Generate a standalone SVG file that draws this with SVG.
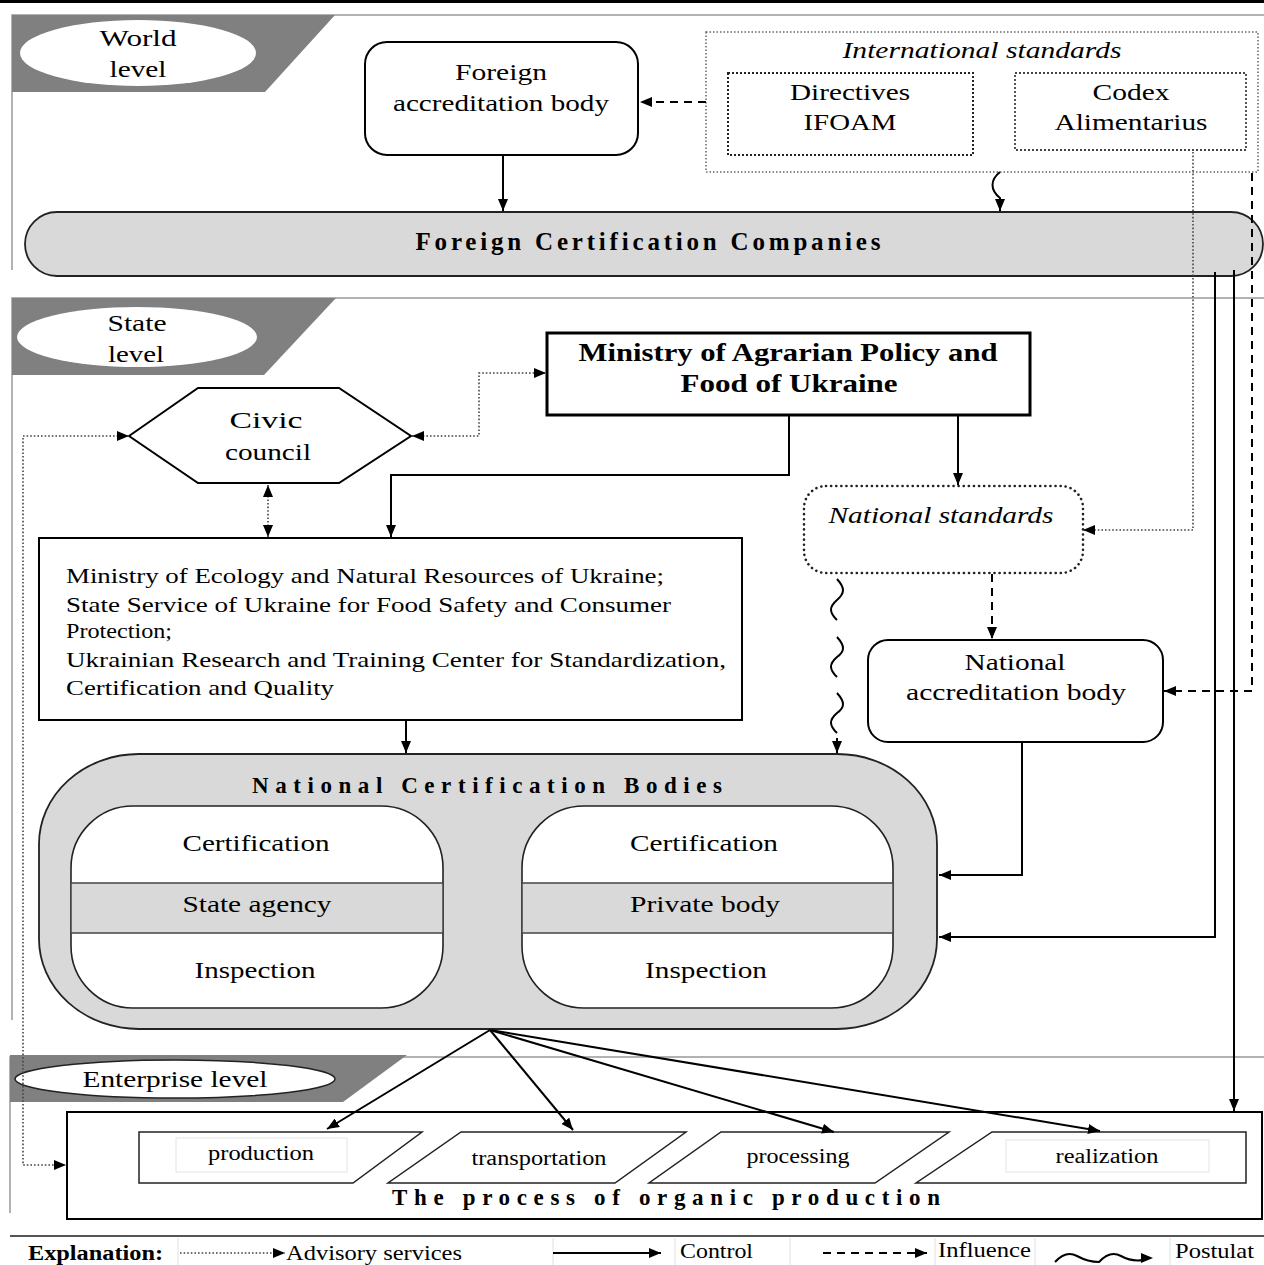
<svg xmlns="http://www.w3.org/2000/svg" width="1264" height="1265" viewBox="0 0 1264 1265">
<defs>
<marker id="ah" markerUnits="userSpaceOnUse" markerWidth="12" markerHeight="10" refX="12" refY="5" orient="auto-start-reverse"><path d="M0,0 L12,5 L0,10 z" fill="#000"/></marker>
<style>
text{font-family:"Liberation Serif","Times New Roman",serif;fill:#000}
.t24{font-size:24px}
.t23{font-size:23px}
.t22{font-size:22px}
.t21{font-size:21px}
.t20{font-size:20px}
.mid{text-anchor:middle}
.b{font-weight:bold}
.i{font-style:italic}
.band{fill:#808080}
.sep{stroke:#999;stroke-width:1.5;fill:none}
.ctl{stroke:#000;stroke-width:2;fill:none}
.dot{stroke:#444;stroke-width:1.6;stroke-dasharray:1.6,2;fill:none}
.dash{stroke:#000;stroke-width:2;stroke-dasharray:8,6;fill:none}
.box{fill:#fff;stroke:#000;stroke-width:2}
.grey{fill:#d9d9d9;stroke:#222;stroke-width:1.8}
</style>
</defs>
<rect width="1264" height="1265" fill="#fff"/>
<rect x="0" y="0" width="1264" height="3" fill="#000"/>

<!-- level bands -->
<g id="world-level">
<path class="sep" d="M12,270 V15 H1264"/>
<polygon class="band" points="12,15 335,15 265,92 12,92"/>
<ellipse cx="138" cy="53" rx="118" ry="33" fill="#fff"/>
<text class="t24 mid" x="138" y="46" textLength="77" lengthAdjust="spacingAndGlyphs">World</text>
<text class="t24 mid" x="138" y="77" textLength="57" lengthAdjust="spacingAndGlyphs">level</text>
</g>
<g id="state-level">
<path class="sep" d="M12,1020 V298 H1264"/>
<polygon class="band" points="12,298 336,298 264,375 12,375"/>
<ellipse cx="137" cy="337" rx="120" ry="30" fill="#fff"/>
<text class="t24 mid" x="137" y="331" textLength="59" lengthAdjust="spacingAndGlyphs">State</text>
<text class="t24 mid" x="136" y="362" textLength="56" lengthAdjust="spacingAndGlyphs">level</text>
</g>
<g id="enterprise-level">
<path class="sep" d="M10,1213 V1057 H1264"/>
<polygon class="band" points="10,1055 407,1055 343,1102 10,1102"/>
<ellipse cx="175" cy="1079" rx="160" ry="19" fill="#fff" stroke="#222" stroke-width="1.5"/>
<text class="t23 mid" x="175" y="1087" textLength="185" lengthAdjust="spacingAndGlyphs">Enterprise level</text>
</g>

<!-- nodes -->
<g id="foreign-accreditation">
<rect class="box" x="365" y="42" width="273" height="113" rx="22"/>
<text class="t23 mid" x="501" y="80" textLength="92" lengthAdjust="spacingAndGlyphs">Foreign</text>
<text class="t23 mid" x="501" y="111" textLength="216" lengthAdjust="spacingAndGlyphs">accreditation body</text>
</g>
<g id="international-standards">
<rect x="706" y="32" width="552" height="140" fill="none" stroke="#666" stroke-width="1.5" stroke-dasharray="1.5,2"/>
<text class="t23 mid i" x="982" y="58" textLength="279" lengthAdjust="spacingAndGlyphs">International standards</text>
</g>
<g id="directives-ifoam">
<rect x="728" y="73" width="245" height="82" fill="none" stroke="#222" stroke-width="2" stroke-dasharray="2,2"/>
<text class="t23 mid" x="850" y="100" textLength="120" lengthAdjust="spacingAndGlyphs">Directives</text>
<text class="t23 mid" x="850" y="130" textLength="93" lengthAdjust="spacingAndGlyphs">IFOAM</text>
</g>
<g id="codex-alimentarius">
<rect x="1015" y="73" width="231" height="77" fill="none" stroke="#444" stroke-width="1.8" stroke-dasharray="2,2"/>
<text class="t23 mid" x="1131" y="100" textLength="77" lengthAdjust="spacingAndGlyphs">Codex</text>
<text class="t23 mid" x="1131" y="130" textLength="153" lengthAdjust="spacingAndGlyphs">Alimentarius</text>
</g>
<g id="foreign-certification-companies">
<rect class="grey" x="25" y="212" width="1238" height="64" rx="32" stroke-width="2.2"/>
<text class="mid b" x="648" y="250" font-size="25" textLength="465">Foreign  Certification  Companies</text>
</g>
<g id="ministry-agrarian">
<rect x="547" y="333" width="483" height="82" fill="#fff" stroke="#000" stroke-width="3"/>
<text class="mid b" x="788" y="361" font-size="26" textLength="419" lengthAdjust="spacingAndGlyphs">Ministry of Agrarian Policy and</text>
<text class="mid b" x="789" y="392" font-size="26" textLength="217" lengthAdjust="spacingAndGlyphs">Food of Ukraine</text>
</g>
<g id="civic-council">
<polygon points="129,436 198,388 339,388 411,436 339,483 198,483" fill="#fff" stroke="#000" stroke-width="2"/>
<text class="t24 mid" x="266" y="428" textLength="73" lengthAdjust="spacingAndGlyphs">Civic</text>
<text class="t24 mid" x="268" y="460" textLength="86" lengthAdjust="spacingAndGlyphs">council</text>
</g>
<g id="ministries-group">
<rect class="box" x="39" y="538" width="703" height="182"/>
<text class="t21" x="66" y="583" textLength="598" lengthAdjust="spacingAndGlyphs">Ministry of Ecology and Natural Resources of Ukraine;</text>
<text class="t21" x="66" y="612" textLength="605" lengthAdjust="spacingAndGlyphs">State Service of Ukraine for Food Safety and Consumer</text>
<text class="t21" x="66" y="638" textLength="106" lengthAdjust="spacingAndGlyphs">Protection;</text>
<text class="t21" x="66" y="667" textLength="660" lengthAdjust="spacingAndGlyphs">Ukrainian Research and Training Center for Standardization,</text>
<text class="t21" x="66" y="695" textLength="268" lengthAdjust="spacingAndGlyphs">Certification and Quality</text>
</g>
<g id="national-standards">
<rect x="804" y="486" width="279" height="87" rx="22" fill="#fff" stroke="#222" stroke-width="2.6" stroke-dasharray="0.1,5" stroke-linecap="round"/>
<text class="t23 mid i" x="941" y="523" textLength="225" lengthAdjust="spacingAndGlyphs">National standards</text>
</g>
<g id="national-accreditation">
<rect class="box" x="868" y="640" width="295" height="102" rx="20"/>
<text class="t23 mid" x="1015" y="670" textLength="101" lengthAdjust="spacingAndGlyphs">National</text>
<text class="t23 mid" x="1016" y="700" textLength="220" lengthAdjust="spacingAndGlyphs">accreditation body</text>
</g>
<g id="national-certification-bodies">
<rect class="grey" x="39" y="754" width="898" height="275" rx="100" ry="90" stroke-width="1.6"/>
<text class="mid b" x="487" y="793" font-size="23" textLength="470">National Certification Bodies</text>
</g>
<g id="state-agency">
<rect x="71" y="806" width="372" height="202" rx="62" fill="#fff" stroke="#222" stroke-width="1.6"/>
<rect x="71" y="883" width="372" height="50" fill="#d9d9d9" stroke="#444" stroke-width="1.5"/>
<text class="t24 mid" x="256" y="851" textLength="147" lengthAdjust="spacingAndGlyphs">Certification</text>
<text class="t24 mid" x="257" y="912" textLength="149" lengthAdjust="spacingAndGlyphs">State agency</text>
<text class="t24 mid" x="255" y="978" textLength="121" lengthAdjust="spacingAndGlyphs">Inspection</text>
</g>
<g id="private-body">
<rect x="522" y="806" width="371" height="202" rx="62" fill="#fff" stroke="#222" stroke-width="1.6"/>
<rect x="522" y="883" width="371" height="50" fill="#d9d9d9" stroke="#444" stroke-width="1.5"/>
<text class="t24 mid" x="704" y="851" textLength="148" lengthAdjust="spacingAndGlyphs">Certification</text>
<text class="t24 mid" x="705" y="912" textLength="150" lengthAdjust="spacingAndGlyphs">Private body</text>
<text class="t24 mid" x="706" y="978" textLength="122" lengthAdjust="spacingAndGlyphs">Inspection</text>
</g>
<g id="organic-production-process">
<rect class="box" x="67" y="1112" width="1195" height="107"/>
<text class="mid b" x="666" y="1205" font-size="23" textLength="548">The process of organic production</text>
</g>
<g id="production">
<polygon points="139,1132 422,1132 353,1183 139,1183" fill="#fff" stroke="#222" stroke-width="1.5"/>
<rect x="176" y="1138" width="171" height="34" fill="none" stroke="#e4e4e4" stroke-width="1"/>
<text class="t20 mid" x="261" y="1160" textLength="106" lengthAdjust="spacingAndGlyphs">production</text>
</g>
<g id="transportation">
<polygon points="461,1132 686,1132 615,1183 388,1183" fill="#fff" stroke="#222" stroke-width="1.5"/>
<text class="t20 mid" x="539" y="1165" textLength="135" lengthAdjust="spacingAndGlyphs">transportation</text>
</g>
<g id="processing">
<polygon points="721,1132 949,1132 875,1183 649,1183" fill="#fff" stroke="#222" stroke-width="1.5"/>
<text class="t20 mid" x="798" y="1163" textLength="103" lengthAdjust="spacingAndGlyphs">processing</text>
</g>
<g id="realization">
<polygon points="992,1132 1246,1132 1246,1183 916,1183" fill="#fff" stroke="#222" stroke-width="1.5"/>
<rect x="1006" y="1140" width="203" height="32" fill="none" stroke="#e4e4e4" stroke-width="1"/>
<text class="t20 mid" x="1107" y="1163" textLength="103" lengthAdjust="spacingAndGlyphs">realization</text>
</g>

<!-- connectors -->
<g id="connectors">
<path class="ctl" d="M503,155 V211" marker-end="url(#ah)"/>
<path class="dash" d="M706,102 H640" marker-end="url(#ah)"/>
<path class="ctl" d="M1000,172 C990,180 990,190 1000,198 V211" marker-end="url(#ah)"/>
<path class="dot" d="M1193,152 V530 H1083" marker-end="url(#ah)"/>
<path class="dash" d="M1252,173 V691 H1164" marker-end="url(#ah)"/>
<path class="ctl" d="M1215,272 V937 H939" marker-end="url(#ah)"/>
<path class="ctl" d="M1234,270 V1111" marker-end="url(#ah)"/>
<path class="ctl" d="M789,415 V475 H391 V537" marker-end="url(#ah)"/>
<path class="ctl" d="M958,415 V485" marker-end="url(#ah)"/>
<path class="dot" d="M268,485 V537" marker-start="url(#ah)" marker-end="url(#ah)"/>
<path class="dot" d="M412,436 H479 V373 H546" marker-start="url(#ah)" marker-end="url(#ah)"/>
<path class="dot" d="M129,436 H23 V1165 H66" marker-start="url(#ah)" marker-end="url(#ah)"/>
<path class="dash" d="M992,574 V639" marker-end="url(#ah)"/>
<path class="ctl" d="M837,579 C845,588 845,593 837,600 C829,607 829,612 837,620 M837,637 C845,646 845,651 837,657 C829,664 829,669 837,677 M837,693 C845,702 845,707 837,713 C829,720 829,725 837,733 M837,738 V753" marker-end="url(#ah)" stroke-width="1.8"/>
<path class="ctl" d="M406,720 V753" marker-end="url(#ah)"/>
<path class="ctl" d="M1022,742 V875 H939" marker-end="url(#ah)"/>
<path class="ctl" d="M490,1030 L327,1129" marker-end="url(#ah)"/>
<path class="ctl" d="M490,1030 L573,1130" marker-end="url(#ah)"/>
<path class="ctl" d="M490,1030 L834,1132" marker-end="url(#ah)"/>
<path class="ctl" d="M490,1030 L1100,1131" marker-end="url(#ah)"/>
</g>

<!-- legend -->
<g id="legend">
<line x1="10" y1="1236" x2="1264" y2="1236" stroke="#555" stroke-width="2"/>
<g stroke="#e0e0e0" stroke-width="1">
<line x1="178" y1="1238" x2="178" y2="1265"/>
<line x1="553" y1="1238" x2="553" y2="1265"/>
<line x1="675" y1="1238" x2="675" y2="1265"/>
<line x1="790" y1="1238" x2="790" y2="1265"/>
<line x1="935" y1="1238" x2="935" y2="1265"/>
<line x1="1035" y1="1238" x2="1035" y2="1265"/>
<line x1="1170" y1="1238" x2="1170" y2="1265"/>
</g>
<text class="t20 b" x="28" y="1260" textLength="135" lengthAdjust="spacingAndGlyphs">Explanation:</text>
<path class="dot" d="M180,1253 H285" marker-end="url(#ah)"/>
<text class="t21" x="286" y="1260" textLength="176" lengthAdjust="spacingAndGlyphs">Advisory services</text>
<path class="ctl" d="M553,1253 H661" marker-end="url(#ah)"/>
<text class="t21" x="680" y="1258" textLength="73" lengthAdjust="spacingAndGlyphs">Control</text>
<path class="dash" d="M823,1253 H927" marker-end="url(#ah)"/>
<text class="t21" x="938" y="1257" textLength="93" lengthAdjust="spacingAndGlyphs">Influence</text>
<path class="ctl" d="M1055,1262 Q1066,1250 1077,1256 T1099,1262 Q1110,1250 1121,1256 T1143,1260" stroke-width="1.6"/>
<polygon points="1141,1253 1153,1258 1141,1263" fill="#000"/>
<text class="t21" x="1175" y="1258" textLength="79" lengthAdjust="spacingAndGlyphs">Postulat</text>
</g>
</svg>
